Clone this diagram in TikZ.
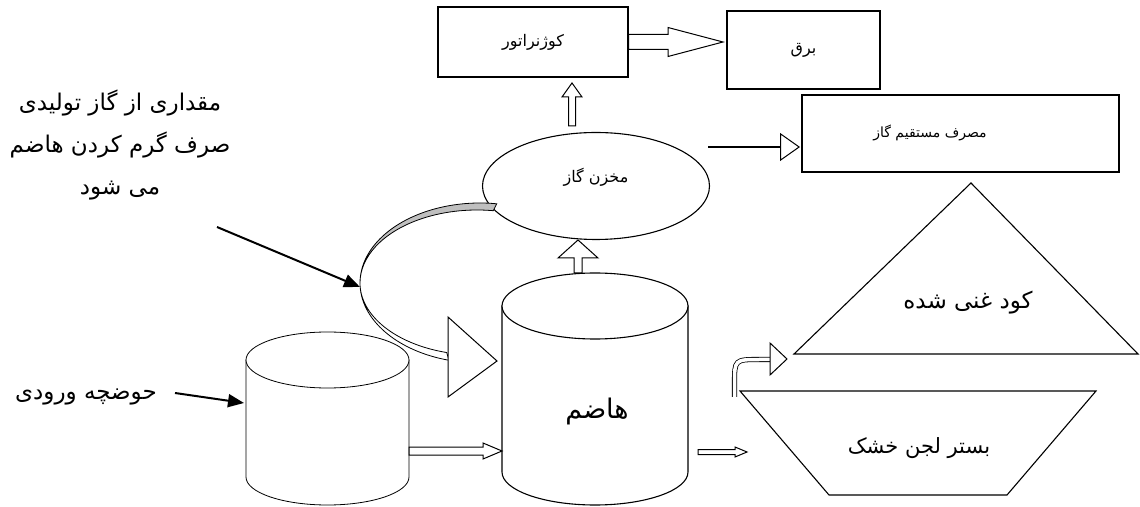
\documentclass[tikz,border=0pt]{standalone}
\usepackage{fontspec}
\newfontfamily\farsi[Script=Arabic]{DejaVu Sans}
\TeXXeTstate=1
\usetikzlibrary{shapes.geometric,arrows.meta,calc}
\newcommand\fatxt[1]{\beginR #1\endR}
% block arrow: start, tip, half shaft, half head, head length
\newcommand\blockarrow[5]{%
  \coordinate (ba-h) at ($(#2)!#5!(#1)$);
  \draw[blockarr] ($(#1)!#3!90:(#2)$) -- ($(ba-h)!#3!90:(#2)$) -- ($(ba-h)!#4!90:(#2)$) -- (#2)
    -- ($(ba-h)!#4!-90:(#2)$) -- ($(ba-h)!#3!-90:(#2)$) -- ($(#1)!#3!-90:(#2)$) -- cycle;}

\begin{document}
\begin{tikzpicture}[x=1pt, y=1pt, line width=1.1pt,
  box/.style={draw, rectangle, fill=white, inner sep=0pt},
  small/.style={font=\farsi\fontsize{16}{19}\selectfont},
  big/.style={font=\farsi\fontsize{23}{42}\selectfont},
  tank/.style={draw, fill=white},
  blockarr/.style={draw, fill=white, line width=1pt, line join=miter},
  pointer/.style={line width=2pt, -{Triangle[length=16pt, width=13pt]}}]
  \useasboundingbox (0,0) rectangle (1140,506);

  % --- boxes and gas store ---
  \node[box, small, minimum width=190pt, minimum height=70pt] (chp) at (533,464) {\fatxt{کوژنراتور}};
  \node[box, small, minimum width=153pt, minimum height=78pt] (bargh) at (803.5,456) {\fatxt{برق}};
  \node[box, minimum width=317pt, minimum height=77pt] (mosraf) at (960.5,372.5) {};
  \node[font=\farsi\fontsize{14}{17}\selectfont] (mosraftxt) at (930,373) {\fatxt{مصرف مستقیم گاز}};
  \node[draw, ellipse, fill=white, minimum width=227pt, minimum height=107pt] (store) at (596,320) {};
  \node[small] (storetxt) at (596,329) {\fatxt{مخزن گاز}};

  % --- inlet tank ---
  \coordinate (intop) at (327.5,146);
  \coordinate (inbot) at (327.5,29);
  \draw[tank, line width=0.8pt] ([xshift=-81.5pt]intop) -- ([xshift=-81.5pt]inbot)
    arc[start angle=180, end angle=360, x radius=81.5, y radius=28] -- ([xshift=81.5pt]intop) -- cycle;
  \draw[tank, line width=0.8pt] (intop) ellipse[x radius=81.5, y radius=28];
  \node[big] (inlet) at (86,109) {\fatxt{حوضچه ورودی}};

  % --- digester ---
  \coordinate (digtop) at (595,200);
  \coordinate (digbot) at (595,34);
  \draw[tank] ([xshift=-93pt]digtop) -- ([xshift=-93pt]digbot)
    arc[start angle=180, end angle=360, x radius=93, y radius=33] -- ([xshift=93pt]digtop) -- cycle;
  \draw[tank] (digtop) ellipse[x radius=93, y radius=33];
  \node[big, font=\farsi\fontsize{27}{32}\selectfont] (hazem) at (597,95) {\fatxt{هاضم}};

  % --- compost and drying bed ---
  \coordinate (k1) at (971,323);
  \coordinate (k2) at (794,152);
  \coordinate (k3) at (1138,152);
  \draw (k1) -- (k2) -- (k3) -- cycle;
  \node[big] (kud) at (968,203) {\fatxt{کود غنی شده}};
  \coordinate (b1) at (740,115);
  \coordinate (b2) at (1096,115);
  \coordinate (b3) at (1007,11);
  \coordinate (b4) at (829,11);
  \draw (b1) -- (b2) -- (b3) -- (b4) -- cycle;
  \node[big, font=\farsi\fontsize{21}{25}\selectfont] (bastar) at (919,58) {\fatxt{بستر لجن خشک}};

  % --- note ---
  \node[big, align=center] (note) at (120,361)
    {\fatxt{مقداری از گاز تولیدی}\\ \fatxt{صرف گرم کردن هاضم}\\ \fatxt{می شود}};

  % --- block arrows ---
  \coordinate (c2) at (723,464);
  \blockarrow{chp.east}{c2}{7.5pt}{14.5pt}{55pt}
  \coordinate (s1) at (572,380);
  \coordinate (s2) at (572,423);
  \blockarrow{s1}{s2}{3.5pt}{10pt}{14pt}
  \coordinate (d1) at (578,233);
  \coordinate (d2) at (578,266);
  \blockarrow{d1}{d2}{4pt}{20pt}{18pt}
  \coordinate (e1) at (409,55);
  \coordinate (e2) at (502,55);
  \blockarrow{e1}{e2}{4pt}{8pt}{19pt}
  \coordinate (f1) at (698,54);
  \coordinate (f2) at (747,54);
  \blockarrow{f1}{f2}{2.5pt}{5pt}{12pt}

  % direct use
  \coordinate (g1) at (708,359);
  \coordinate (g2) at (800,359);
  \draw[line width=2.5pt, -{Triangle[open, length=20pt, width=28pt, line width=1pt]}] (g1) -- (g2);

  % --- pointers ---
  \coordinate (n1) at (217,279);
  \coordinate (n2) at (360,219);
  \draw[pointer] (n1) -- (n2);
  \coordinate (i1) at (175,113);
  \coordinate (i2) at (244,103);
  \draw[pointer] (i1) -- (i2);

  % --- bed to compost ---
  \coordinate (h1) at (734.5,109);
  \coordinate (h2) at (770,146.5);
  \draw[double=white, double distance=3.5pt, line width=0.8pt] (h1) -- (734.5,122) .. controls (734.5,146.5) .. (760,146.5) -- (h2);
  \draw[blockarr] (770,163) -- (787,147) -- (770,131) -- cycle;

  % --- heating loop from store back to digester ---
  \coordinate (loop) at (480,223);
  \draw[fill=black!25, line width=0.8pt] ($(loop)+(82:120 and 80)$)
    arc[start angle=82, end angle=180, x radius=120, y radius=80]
    arc[start angle=180, end angle=82, x radius=117, y radius=73] -- cycle;
  \draw[fill=white, line width=0.8pt] ($(loop)+(180:120 and 80)$)
    arc[start angle=180, end angle=255, x radius=120, y radius=80]
    -- ($(loop)+(-3,0)+(255:117 and 72)$)
    arc[start angle=255, end angle=180, x radius=117, y radius=72] -- cycle;
  \draw[blockarr] (448,189) -- (497,145) -- (448,109) -- cycle;
\end{tikzpicture}
\end{document}
